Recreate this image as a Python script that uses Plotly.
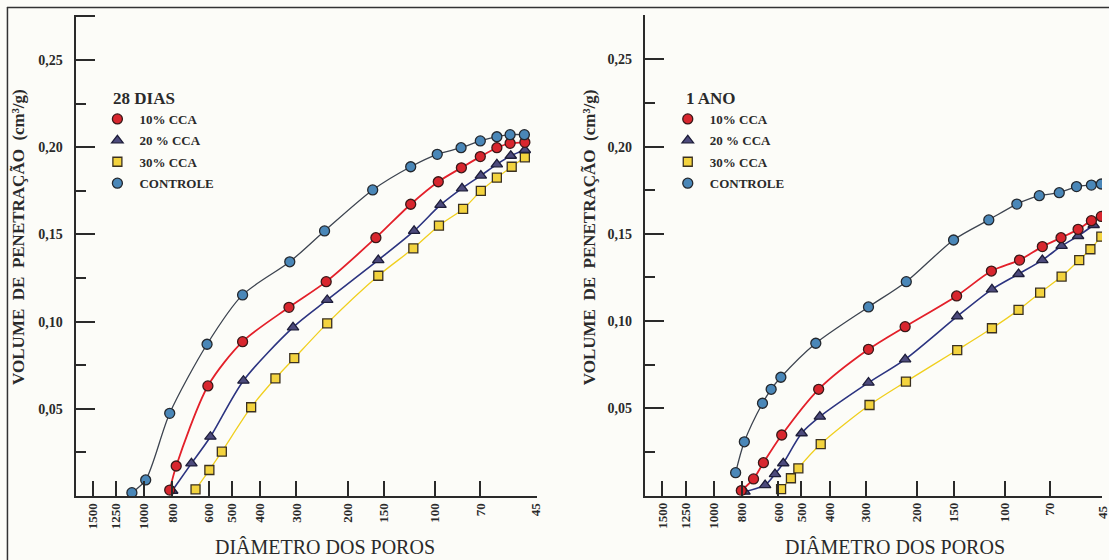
import plotly.graph_objects as go

W, H = 1109, 560

# ---------------- axis ticks ----------------
x_ticks = [1500, 1250, 1000, 800, 600, 500, 400, 300, 200, 150, 100, 70, 45]
x_tick_text = [str(v) for v in x_ticks]
y_ticks = [0.05, 0.10, 0.15, 0.20, 0.25, 0.275]
y_tick_text = ["0,05", "0,10", "0,15", "0,20", "0,25", ""]
y_minor = [0.025, 0.075, 0.125, 0.175, 0.225]

series_names = ["10% CCA", "20 % CCA", "30% CCA", "CONTROLE"]

# ---------------- 28 DIAS ----------------
d28_cca10_diam = [817, 776, 604, 459, 318, 236.9, 159.9, 121.4, 97.6, 81.3, 70, 61.4, 55.3, 49.2]
d28_cca10_vol = [0.0034, 0.0172, 0.0631, 0.0885, 0.1082, 0.1229, 0.1481, 0.1673, 0.1802, 0.1882, 0.1946, 0.1997, 0.2022, 0.2028]
d28_cca20_diam = [801, 688, 592, 456, 308, 235, 156.9, 118.2, 95.9, 80.9, 69.7, 61.4, 55, 49.2]
d28_cca20_vol = [0.003, 0.0187, 0.034, 0.0661, 0.0967, 0.1124, 0.1353, 0.152, 0.1669, 0.1764, 0.1837, 0.1902, 0.1951, 0.1984]
d28_cca30_diam = [666, 597, 541, 429, 354, 305, 235, 156.9, 118.9, 97.1, 80.2, 69.7, 61.4, 54.6, 49.2]
d28_cca30_vol = [0.0038, 0.0149, 0.0254, 0.0509, 0.0675, 0.079, 0.099, 0.1263, 0.142, 0.155, 0.1646, 0.1749, 0.1825, 0.1888, 0.1942]
d28_ctrl_diam = [1102, 988, 817, 608, 459, 316, 240, 164, 121.4, 98.4, 81.5, 70, 61.4, 55.3, 49.4]
d28_ctrl_vol = [0.0019, 0.0092, 0.0474, 0.087, 0.1153, 0.1343, 0.152, 0.1755, 0.1888, 0.1959, 0.1997, 0.2036, 0.206, 0.2072, 0.2072]

# ---------------- 1 ANO ----------------
a1_cca10_diam = [804, 730, 675, 584, 436, 294, 220, 146.4, 111.2, 89, 74.3, 64.1, 56, 50.4, 46.6]
a1_cca10_vol = [0.0028, 0.0095, 0.0188, 0.0347, 0.0609, 0.0838, 0.0968, 0.1144, 0.1287, 0.135, 0.1427, 0.1478, 0.1526, 0.1576, 0.160]
a1_cca20_diam = [784, 666, 616, 577, 499, 432, 294, 220, 145.7, 110.7, 89.7, 74.3, 63.8, 56, 49.5]
a1_cca20_vol = [0.0022, 0.006, 0.0123, 0.0185, 0.0357, 0.0452, 0.0647, 0.0781, 0.1027, 0.1182, 0.127, 0.135, 0.1431, 0.1488, 0.1551]
a1_cca30_diam = [587, 543, 512, 429, 291.6, 218.6, 145.7, 110.7, 89.7, 75.6, 63.8, 55.5, 50.8, 46.6]
a1_cca30_vol = [0.0036, 0.0099, 0.0156, 0.0295, 0.0519, 0.0653, 0.0834, 0.0959, 0.1064, 0.1163, 0.1255, 0.135, 0.1412, 0.1484]
a1_ctrl_diam = [841, 785, 680, 635, 588, 446, 294, 218, 150, 113.5, 90.9, 76.1, 65, 56.7, 50.4, 46.6]
a1_ctrl_vol = [0.0131, 0.0308, 0.0529, 0.0609, 0.0678, 0.0873, 0.1081, 0.1226, 0.1465, 0.158, 0.1671, 0.1719, 0.1736, 0.1771, 0.178, 0.1786]

panel_titles = ["28 DIAS", "1 ANO"]
x_title = "DIÂMETRO DOS POROS"
SP = "\u00a0 "
y_title = "VOLUME" + SP + "DE" + SP + "PENETRAÇÃO" + SP + "(cm³/g)"

# ---------------- styles ----------------
INK = "#2a2a2a"
SERIF = "Liberation Serif"
styles = {
    "10% CCA": dict(line="#e3202a", fill="#d8262e", edge="#3a1818", symbol="circle", lw=1.8),
    "20 % CCA": dict(line="#2c3480", fill="#4c4a7c", edge="#1e1e3a", symbol="triangle-up", lw=1.6),
    "30% CCA": dict(line="#f0cf1e", fill="#f3d33e", edge="#3a3020", symbol="square", lw=1.3),
    "CONTROLE": dict(line="#3d4450", fill="#4a87b8", edge="#24282e", symbol="circle", lw=1.3),
}

panels = [
    dict(key="p1", xa="x", ya="y", legend="legend",
         data={"10% CCA": (d28_cca10_diam, d28_cca10_vol), "20 % CCA": (d28_cca20_diam, d28_cca20_vol),
               "30% CCA": (d28_cca30_diam, d28_cca30_vol), "CONTROLE": (d28_ctrl_diam, d28_ctrl_vol)}),
    dict(key="p2", xa="x2", ya="y2", legend="legend2",
         data={"10% CCA": (a1_cca10_diam, a1_cca10_vol), "20 % CCA": (a1_cca20_diam, a1_cca20_vol),
               "30% CCA": (a1_cca30_diam, a1_cca30_vol), "CONTROLE": (a1_ctrl_diam, a1_ctrl_vol)}),
]

fig = go.Figure()
draw_order = ["30% CCA", "20 % CCA", "10% CCA", "CONTROLE"]
for p in panels:
    for name in draw_order:
        xs, ys = p["data"][name]
        st = styles[name]
        fig.add_trace(go.Scatter(x=xs, y=ys, mode="lines", xaxis=p["xa"], yaxis=p["ya"],
                                 line=dict(color=st["line"], width=st["lw"], shape="spline", smoothing=0.8),
                                 showlegend=False, hoverinfo="skip"))
    for name in draw_order:
        xs, ys = p["data"][name]
        st = styles[name]
        fig.add_trace(go.Scatter(x=xs, y=ys, mode="markers", xaxis=p["xa"], yaxis=p["ya"], name=name,
                                 legend=p["legend"], legendgroup=p["key"] + name,
                                 legendrank=series_names.index(name) + 1,
                                 marker=dict(symbol=st["symbol"], size=10 if st["symbol"] != "square" else 9,
                                             color=st["fill"], line=dict(color=st["edge"], width=1.3))))


def px_x(px):
    return px / W


def px_y(py):
    return 1 - py / H


xcommon = dict(type="log", tickmode="array", tickvals=x_ticks, ticktext=x_tick_text, ticks="inside",
               ticklen=15, tickwidth=1.8, tickcolor=INK, showline=True, linecolor=INK, linewidth=2,
               tickangle=-90, tickfont=dict(family=SERIF, size=13, color=INK, weight="bold"),
               showgrid=False, zeroline=False)
ycommon = dict(tickmode="array", tickvals=y_ticks, ticktext=y_tick_text, ticks="inside", ticklen=19,
               tickwidth=1.8, tickcolor=INK, showline=True, linecolor=INK, linewidth=2,
               minor=dict(tickvals=y_minor, ticks="inside", ticklen=10, tickwidth=1.8, tickcolor=INK),
               ticklabelstandoff=8, tickfont=dict(family=SERIF, size=14, color=INK, weight="bold"),
               showgrid=False, zeroline=False)

legend_common = dict(xanchor="left", yanchor="top", bgcolor="rgba(0,0,0,0)", borderwidth=0,
                     font=dict(family=SERIF, size=13, color=INK, weight="bold"), itemwidth=34,
                     traceorder="grouped", tracegroupgap=1.5)

fig.update_layout(
    width=W, height=H, margin=dict(l=0, r=0, t=0, b=0),
    paper_bgcolor="#fcfcf8", plot_bgcolor="rgba(0,0,0,0)",
    showlegend=True,
    xaxis=dict(xcommon, domain=[px_x(76), px_x(540)], range=[3.23585, 1.65169], anchor="y"),
    yaxis=dict(ycommon, domain=[px_y(496), px_y(15)], range=[0, 0.2758], anchor="x"),
    xaxis2=dict(xcommon, domain=[px_x(649), 1.0], range=[3.23653, 1.66603], anchor="y2"),
    yaxis2=dict(ycommon, domain=[px_y(495.5), px_y(15)], range=[0, 0.2755], anchor="x2"),
    legend=dict(legend_common, x=px_x(96), y=px_y(104)),
    legend2=dict(legend_common, x=px_x(670), y=px_y(104)),
)

annotations = []
for cx, title in [(112, panel_titles[0]), (688, panel_titles[1])]:
    annotations.append(dict(text=title, x=px_x(cx), y=px_y(98), xref="paper", yref="paper",
                            xanchor="left", yanchor="middle", showarrow=False,
                            font=dict(family=SERIF, size=17, color=INK, weight="bold")))
for cx in [18, 593]:
    annotations.append(dict(text=y_title, x=px_x(cx), y=px_y(237), xref="paper", yref="paper",
                            textangle=-90, xanchor="center", yanchor="middle", showarrow=False,
                            font=dict(family=SERIF, size=17, color=INK, weight="bold")))
for cx in [327, 901]:
    annotations.append(dict(text=x_title, x=px_x(cx), y=px_y(547), xref="paper", yref="paper",
                            xanchor="center", yanchor="middle", showarrow=False,
                            font=dict(family=SERIF, size=20, color=INK)))
# "45" tick label of the right panel, cut by the page edge as in the scan
annotations.append(dict(text=x_tick_text[-1], x=px_x(1109), y=px_y(503), xref="paper", yref="paper",
                        textangle=-90, xanchor="center", yanchor="top", showarrow=False,
                        font=dict(family=SERIF, size=13, color=INK, weight="bold")))
fig.update_layout(annotations=annotations)

# scan frame (top and left edges)
fig.update_layout(shapes=[
    dict(type="line", xref="paper", yref="paper", x0=px_x(7), x1=1.01, y0=px_y(7.5), y1=px_y(7.5),
         line=dict(color="#333333", width=1.5)),
    dict(type="line", xref="paper", yref="paper", x0=px_x(7.5), x1=px_x(7.5), y0=px_y(7), y1=-0.01,
         line=dict(color="#333333", width=1.5)),
])

fig.write_html("out.html", config={"displayModeBar": False},
               post_script="document.body.style.margin='0px';document.body.style.overflow='hidden';")
